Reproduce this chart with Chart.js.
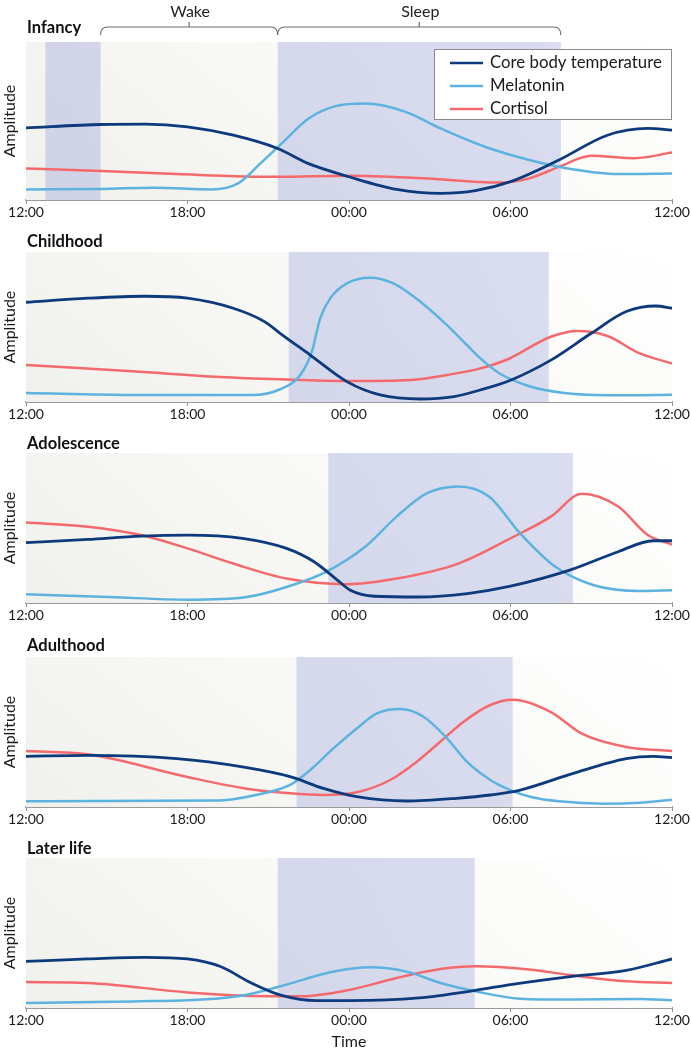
<!DOCTYPE html>
<html><head><meta charset="utf-8">
<script src="https://cdn.jsdelivr.net/npm/chart.js@4.4.1/dist/chart.umd.min.js"></script>
<style>
html,body{margin:0;padding:0;background:#fff;}
#wrap{position:relative;width:691px;height:1050px;overflow:hidden;}
#wrap canvas{position:absolute;left:0;display:block;}
</style></head><body><div id="wrap"></div>
<script>
// ---- data ----
const tickHours = [0, 6, 12, 18, 24];
const tickLabels = ['12:00', '18:00', '00:00', '06:00', '12:00'];
const seriesNames = ['Core body temperature', 'Melatonin', 'Cortisol'];
const panelTitles = ['Infancy', 'Childhood', 'Adolescence', 'Adulthood', 'Later life'];
const bracketLabels = ['Wake', 'Sleep'];
const bracketRanges = [[2.77, 9.35], [9.35, 19.87]];

// [hours after 12:00, amplitude %]
const infancyTemp = [[0,45.7],[2.8,47.8],[4.44,48],[6,46.3],[7.7,41],[9.35,32.6],[10.5,23],[12,14.7],[13.77,6.7],[15.4,4.2],[16.7,5.9],[18,11.6],[19.8,25.3],[21.6,41],[23.1,45.3],[24,44.2]];
const infancyMel = [[0,6.7],[2.8,7],[4.76,7.8],[6.9,6.7],[7.88,10.5],[8.7,23],[9.5,35.8],[10.5,51.6],[11.5,59.4],[12.6,61],[14.1,55.8],[15.4,45.3],[17.05,33.7],[18.7,25.3],[20.3,19.4],[21.96,16.4],[24,16.8]];
const infancyCort = [[0,20],[2.8,18.3],[5.6,16.4],[9.35,14.7],[12.05,15.4],[14.76,13.7],[17.6,11],[18.7,13.7],[19.8,21],[21,28],[22.6,26.5],[24,30]];
const infancySleep = [[0.72,2.77],[9.35,19.87]];

const childhoodTemp = [[0,66.5],[2.3,69.2],[4.44,70.5],[6,69.2],[7.7,62.5],[8.86,53.6],[9.44,45.8],[10.56,31.3],[11.92,13.6],[13.16,4.7],[14.65,2],[15.9,3.6],[16.88,8],[18,14.5],[19.5,27.9],[21,45.8],[22.3,60.3],[23.4,64],[24,62.5]];
const childhoodMel = [[0,6],[3.95,4.7],[8.4,4.6],[9.44,8.5],[10.19,18],[10.62,33.6],[10.93,55.8],[11.3,69.1],[11.92,79.1],[12.79,82.9],[13.65,79.1],[14.65,66.9],[15.64,51.3],[16.38,38],[16.88,29.1],[17.6,19],[18.7,10.5],[20,6],[22,4.5],[24,4.9]];
const childhoodCort = [[0,24.6],[3.95,20.5],[7.2,16.7],[9.44,15.1],[11.9,14],[14.3,14.7],[15.64,18],[16.88,22.4],[17.9,28.5],[19.5,43.5],[20.5,47.3],[21.6,44],[22.8,32.4],[24,25.7]];
const childhoodSleep = [[9.76,19.42]];

const adolescenceTemp = [[0,40.2],[2.3,42.4],[4.27,44.6],[6,45.3],[8.04,43.1],[9.68,36.4],[10.7,27.5],[11.5,16.3],[12.05,8.5],[12.95,4.5],[14.6,4],[16.4,6.3],[18,11.2],[20.2,21.9],[22,34.2],[23.3,41.5],[24,41.5]];
const adolescenceMel = [[0,5.8],[3.1,4],[6,2.2],[8.2,4],[9.68,10.7],[11.15,20.8],[12.6,37.5],[13.77,57.6],[14.9,73.2],[16.06,77.7],[17.2,71],[18.36,46.4],[19.67,24.1],[21.1,11.8],[22.8,8],[24,8.5]];
const adolescenceCort = [[0,53.6],[2.3,50.9],[4.27,45.3],[6,36.4],[7.7,26.3],[9.68,16.3],[11.9,12.5],[13.77,16.3],[16.06,26.3],[18,43.1],[19.5,57.6],[20.65,72.8],[22,64.3],[23.1,45.3],[24,39]];
const adolescenceSleep = [[11.23,20.32]];

const adulthoodTemp = [[0,33.8],[2.3,34.4],[5.6,32.2],[8.04,26.7],[9.81,20.2],[11.05,12.4],[12.29,6.9],[14.15,4],[16,5.8],[17.25,8],[18.36,11.3],[20.3,22.2],[22.3,32.2],[23.3,33.8],[24,32.9]];
const adulthoodMel = [[0,3.8],[7.2,4.4],[8.5,7.8],[9.81,14.7],[10.56,24.7],[11.42,39.1],[12.29,52.4],[13.04,62.4],[13.9,65.3],[14.77,60.2],[15.64,45.8],[16.38,30.2],[17.25,18],[17.99,11.3],[18.8,6.5],[19.8,3.8],[21.5,2.2],[22.8,2.9],[24,4.9]];
const adulthoodCort = [[0,37.3],[2.3,35.1],[6,20],[8.2,12.2],[9.81,9.1],[11.05,8],[12.29,9.8],[13.53,18],[14.52,30.2],[15.39,43.5],[16.26,56.9],[17.25,68],[18.1,71.5],[19.5,63.3],[20.65,48.9],[22.3,40],[24,37.3]];
const adulthoodSleep = [[10.05,18.08]];

const laterTemp = [[0,31.1],[2.3,32.7],[4.44,33.8],[6,32.7],[7.2,27.8],[8.37,16.7],[9.5,8.4],[10.8,4.9],[12.05,4.9],[14.6,6.7],[16.7,11.8],[18,15.6],[20.3,21.1],[22.3,25.1],[24,32.7]];
const laterMel = [[0,3.3],[3.95,4.4],[6.57,5.6],[8.2,8.9],[9.68,15.6],[11.3,23.8],[12.8,27.1],[14.1,24.4],[15.4,16.7],[16.7,11.1],[18.36,6.2],[20.3,5.6],[22.8,6],[24,5.1]];
const laterCort = [[0,17.3],[2.3,16.7],[6,10.4],[8.2,8.2],[10.2,7.8],[12.05,12.2],[13.77,20],[15.4,26],[16.7,27.8],[18.7,25.6],[20.3,21.8],[22.3,17.8],[24,16.7]];
const laterSleep = [[9.35,16.67]];

// ---- styling / layout ----
const FONT = 'Lato, "Open Sans", "Liberation Sans", sans-serif';
const colors = ['#0c3a7c', '#5cb3e0', '#f46a6c'];
const panels = [
  {series:[infancyTemp, infancyMel, infancyCort], sleep:infancySleep, top:0, h:225, padTop:42, axisH:25, titleOff:14, legend:true, brackets:true},
  {series:[childhoodTemp, childhoodMel, childhoodCort], sleep:childhoodSleep, top:225, h:202, padTop:27, axisH:25, titleOff:10},
  {series:[adolescenceTemp, adolescenceMel, adolescenceCort], sleep:adolescenceSleep, top:427, h:201, padTop:26, axisH:25, titleOff:9},
  {series:[adulthoodTemp, adulthoodMel, adulthoodCort], sleep:adulthoodSleep, top:628, h:204, padTop:29, axisH:25, titleOff:11},
  {series:[laterTemp, laterMel, laterCort], sleep:laterSleep, top:832, h:218, padTop:26, axisH:42, titleOff:9, timeTitle:true}
];

const decorPlugin = {
  id: 'decor',
  beforeDatasetsDraw(chart, args, opts) {
    const {ctx, chartArea:a, scales:{x}} = chart;
    ctx.save();
    const g = ctx.createLinearGradient(a.left, a.bottom, a.left + 330, a.top - 260);
    g.addColorStop(0, '#f0f0ec');
    g.addColorStop(0.45, '#f8f8f5');
    g.addColorStop(1, '#ffffff');
    ctx.fillStyle = g;
    ctx.fillRect(a.left, a.top, a.right - a.left, a.bottom - a.top);
    const sg = ctx.createLinearGradient(a.left, a.bottom, a.right, a.top);
    sg.addColorStop(0, 'rgba(180,186,224,0.55)');
    sg.addColorStop(1, 'rgba(188,194,230,0.52)');
    ctx.fillStyle = sg;
    opts.sleep.forEach(([s, e]) => {
      const x1 = x.getPixelForValue(s), x2 = x.getPixelForValue(e);
      ctx.fillRect(x1, a.top, x2 - x1, a.bottom - a.top);
    });
    ctx.restore();
  },
  afterDraw(chart, args, opts) {
    const {ctx, chartArea:a, scales:{x}} = chart;
    ctx.save();
    ctx.fillStyle = '#111';
    ctx.font = 'bold 16.5px ' + FONT;
    ctx.textBaseline = 'middle';
    ctx.textAlign = 'left';
    ctx.fillText(opts.title, a.left + 1, a.top - opts.titleOff);
    if (opts.brackets) {
      ctx.strokeStyle = '#6d6d6d';
      ctx.lineWidth = 1.2;
      ctx.font = '16px ' + FONT;
      ctx.fillStyle = '#222';
      ctx.textAlign = 'center';
      const y = 27;
      bracketRanges.forEach(([s, e], i) => {
        const x1 = x.getPixelForValue(s), x2 = x.getPixelForValue(e), mid = (x1 + x2) / 2, r = 7;
        ctx.beginPath();
        ctx.moveTo(x1, y + 8);
        ctx.quadraticCurveTo(x1, y, x1 + r, y);
        ctx.lineTo(x2 - r, y);
        ctx.quadraticCurveTo(x2, y, x2, y + 8);
        ctx.moveTo(mid, y);
        ctx.lineTo(mid, y - 5);
        ctx.stroke();
        ctx.fillText(bracketLabels[i], mid + 1, 12);
      });
    }
    if (opts.legend) {
      const bx = 434, by = 49, bw = 238, bh = 71;
      ctx.fillStyle = '#fff';
      ctx.fillRect(bx, by, bw, bh);
      ctx.strokeStyle = '#8a8a8a';
      ctx.lineWidth = 1;
      ctx.strokeRect(bx + 0.5, by + 0.5, bw - 1, bh - 1);
      ctx.font = '16.8px ' + FONT;
      ctx.textAlign = 'left';
      ctx.textBaseline = 'middle';
      chart.data.datasets.forEach((ds, i) => {
        const ry = by + 14 + i * 23;
        ctx.strokeStyle = ds.borderColor;
        ctx.lineWidth = 2.5;
        ctx.beginPath();
        ctx.moveTo(450, ry);
        ctx.lineTo(483, ry);
        ctx.stroke();
        ctx.fillStyle = '#1a1a1a';
        ctx.fillText(ds.label, 490, ry);
      });
    }
    ctx.restore();
  }
};

const wrap = document.getElementById('wrap');
panels.forEach((p, pi) => {
  const cv = document.createElement('canvas');
  cv.width = 691; cv.height = p.h;
  cv.style.width = '691px'; cv.style.height = p.h + 'px';
  cv.style.top = p.top + 'px';
  wrap.appendChild(cv);
  new Chart(cv, {
    type: 'line',
    data: {
      datasets: p.series.map((s, i) => ({
        label: seriesNames[i],
        data: s.map(([h, v]) => ({x: h, y: v})),
        borderColor: colors[i],
        borderWidth: i === 0 ? 2.8 : 2.5,
        cubicInterpolationMode: 'monotone',
        pointRadius: 0,
        fill: false
      }))
    },
    options: {
      responsive: false,
      animation: false,
      devicePixelRatio: 1,
      layout: {padding: {top: p.padTop, right: 19, left: 0, bottom: 0}},
      events: [],
      plugins: {
        legend: {display: false},
        tooltip: {enabled: false},
        title: {display: false},
        decor: {sleep: p.sleep, title: panelTitles[pi], titleOff: p.titleOff, legend: !!p.legend, brackets: !!p.brackets}
      },
      scales: {
        x: {
          type: 'linear', min: 0, max: 24,
          afterBuildTicks: (s) => { s.ticks = tickHours.map(v => ({value: v})); },
          ticks: {autoSkip: false, maxRotation: 0, padding: 0, color: '#1a1a1a', font: {size: 14, family: FONT},
                  callback: (v) => tickLabels[tickHours.indexOf(v)]},
          grid: {display: true, drawOnChartArea: false, drawTicks: true, tickLength: 4, color: '#8f8f8f', lineWidth: 1},
          border: {display: true, color: '#9a9a9a', width: 2},
          title: {display: !!p.timeTitle, text: 'Time', color: '#1a1a1a', font: {size: 16, family: FONT, lineHeight: 1}, padding: {top: 0, bottom: 0}},
          afterFit: (s) => { s.height = p.axisH; s.paddingLeft = 0; s.paddingRight = 0; }
        },
        y: {
          min: 0, max: 100,
          ticks: {display: false},
          grid: {display: false},
          border: {display: true, color: '#b4b4b4', width: 1},
          title: {display: true, text: 'Amplitude', color: '#1a1a1a', font: {size: 16, family: FONT, lineHeight: 1.2}, padding: {top: 0, bottom: 0}},
          afterFit: (s) => { s.width = 26; }
        }
      }
    },
    plugins: [decorPlugin]
  });
});
</script>
</body></html>
